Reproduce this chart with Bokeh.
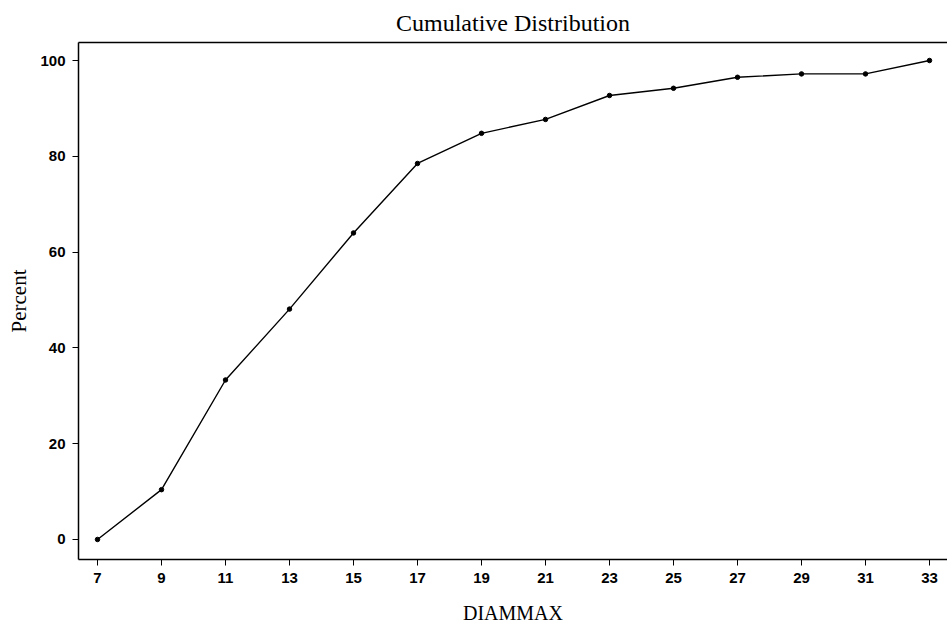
from bokeh.plotting import figure
from bokeh.models import ColumnDataSource, FixedTicker, LinearAxis, Range1d
from bokeh.embed import file_html
from bokeh.resources import INLINE

diammax = [7, 9, 11, 13, 15, 17, 19, 21, 23, 25, 27, 29, 31, 33]
percent = [0.0, 10.4, 33.3, 48.1, 64.0, 78.5, 84.8, 87.7, 92.7, 94.2, 96.5, 97.2, 97.2, 100.0]
x_ticks = list(range(7, 34, 2))
y_ticks = [0, 20, 40, 60, 80, 100]
title_text = "Cumulative Distribution"

src = ColumnDataSource(data=dict(x=diammax, y=percent))

x0, x1 = 6.406, 33.5625
y0, y1 = -4.18, 103.76
p = figure(width=947, height=629, output_backend="svg", toolbar_location=None,
           x_range=Range1d(x0, x1), y_range=Range1d(y0, y1),
           min_border_left=78, min_border_right=0, min_border_top=42, min_border_bottom=70)

p.title.text = title_text
p.title.align = "center"
p.title.text_font = "Liberation Serif"
p.title.text_font_size = "24px"
p.title.text_font_style = "normal"
p.title.text_color = "black"
p.title.standoff = 14

p.line("x", "y", source=src, line_color="black", line_width=1.4)
p.scatter("x", "y", source=src, size=4.5, fill_color="black", line_color="black")

p.grid.visible = False
p.outline_line_color = None
p.background_fill_color = "white"
p.border_fill_color = "white"

for ax, ticks in ((p.xaxis[0], x_ticks), (p.yaxis[0], y_ticks)):
    ax.ticker = FixedTicker(ticks=ticks)
    ax.minor_tick_line_color = None
    ax.major_tick_in = 0
    ax.major_tick_out = 6
    ax.axis_line_color = "black"
    ax.axis_line_width = 1.5
    ax.major_tick_line_color = "black"
    ax.major_label_text_font = "Liberation Sans"
    ax.major_label_text_font_style = "bold"
    ax.major_label_text_font_size = "15px"
    ax.major_label_text_color = "black"
    ax.axis_label_text_font = "Liberation Serif"
    ax.axis_label_text_font_style = "normal"
    ax.axis_label_text_color = "black"

p.xaxis.axis_label = "DIAMMAX"
p.xaxis.axis_label_text_font_size = "20px"
p.xaxis.major_label_standoff = 7
p.xaxis.axis_label_standoff = 16
p.yaxis.axis_label = "Percent"
p.yaxis.axis_label_text_font_size = "21px"
p.yaxis.major_label_standoff = 7
p.yaxis.axis_label_standoff = 6

# frame top border
top = LinearAxis(ticker=FixedTicker(ticks=[]), major_label_text_font_size="0px",
                 axis_line_color="black", axis_line_width=1.5,
                 major_tick_in=0, major_tick_out=0,
                 major_tick_line_color=None, minor_tick_line_color=None)
p.add_layout(top, "above")

open("out.html", "w").write(file_html(p, INLINE))
